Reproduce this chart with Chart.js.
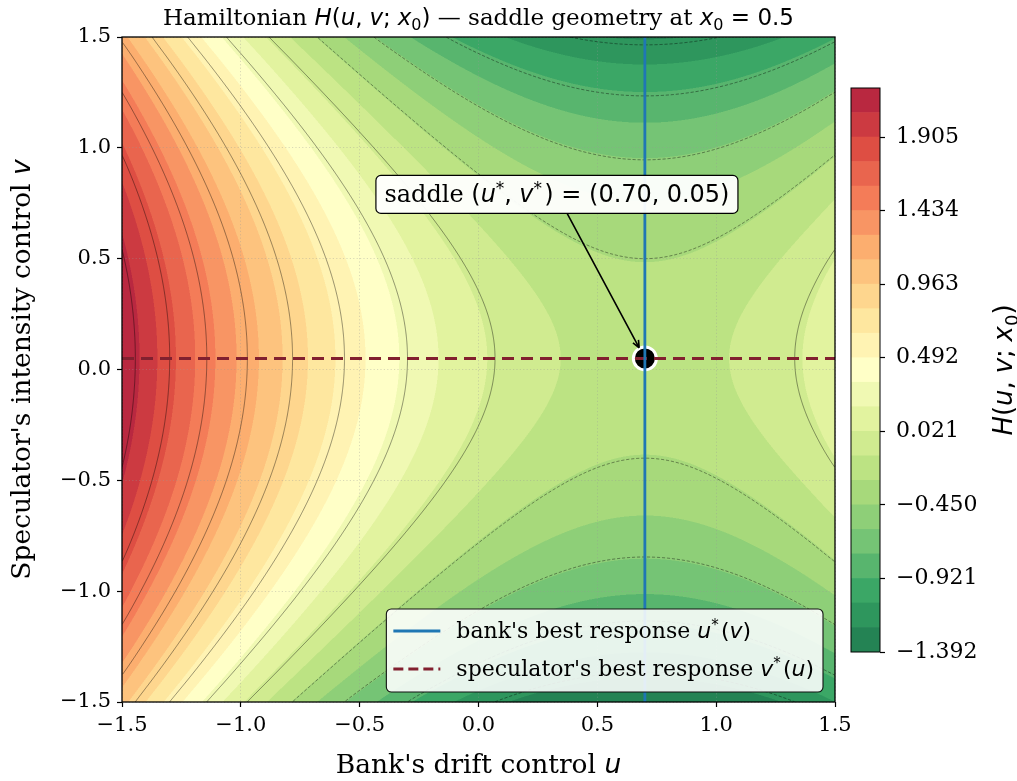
<!DOCTYPE html>
<html>
<head>
<meta charset="utf-8">
<title>Hamiltonian saddle geometry</title>
<script src="https://cdn.jsdelivr.net/npm/chart.js@4.4.1/dist/chart.umd.min.js"></script>
<style>
  html, body { margin: 0; padding: 0; background: #fff; }
  #wrap { position: relative; width: 1017px; height: 781px; }
  #mainChart { position: absolute; left: 0; top: 0; }
  #cbarChart { position: absolute; left: 845px; top: 0; }
</style>
</head>
<body>
<div id="wrap">
  <canvas id="mainChart" width="1017" height="781"></canvas>
  <canvas id="cbarChart" width="172" height="781"></canvas>
</div>
<script>
// ---- values ----
const uStar = 0.70;
const vStar = 0.05;

// H along the horizontal through the saddle, H(u, v*)
const uSamples = [-1.5, -1.4, -1.3, -1.2, -1.1, -1.0, -0.9, -0.8, -0.7, -0.6, -0.5,
  -0.4, -0.3, -0.2, -0.1, 0.0, 0.1, 0.2, 0.3, 0.4, 0.5, 0.6, 0.7, 0.8, 0.9, 1.0,
  1.1, 1.2, 1.3, 1.4, 1.5];
const hRow = [2.22, 2.005, 1.80, 1.605, 1.42, 1.245, 1.08, 0.925, 0.78, 0.645, 0.52,
  0.405, 0.30, 0.205, 0.12, 0.045, -0.02, -0.075, -0.12, -0.155, -0.18, -0.195, -0.20,
  -0.195, -0.18, -0.155, -0.12, -0.075, -0.02, 0.045, 0.12];

// H along the vertical through the saddle, H(u*, v)
const vSamples = [-1.5, -1.4, -1.3, -1.2, -1.1, -1.0, -0.9, -0.8, -0.7, -0.6, -0.5,
  -0.4, -0.3, -0.2, -0.1, 0.0, 0.1, 0.2, 0.3, 0.4, 0.5, 0.6, 0.7, 0.8, 0.9, 1.0,
  1.1, 1.2, 1.3, 1.4, 1.5];
const hCol = [-1.40, -1.25, -1.11, -0.98, -0.86, -0.75, -0.65, -0.56, -0.48, -0.41,
  -0.35, -0.30, -0.26, -0.23, -0.21, -0.20, -0.20, -0.21, -0.23, -0.26, -0.30, -0.35,
  -0.41, -0.48, -0.56, -0.65, -0.75, -0.86, -0.98, -1.11, -1.25];

const fillLevels = [-1.392, -1.235, -1.078, -0.921, -0.764, -0.607, -0.450, -0.293,
  -0.136, 0.021, 0.178, 0.335, 0.492, 0.649, 0.806, 0.963, 1.120, 1.277, 1.434,
  1.591, 1.748, 1.905, 2.062, 2.219];
const cbarTicks = [-1.392, -0.921, -0.450, 0.021, 0.492, 0.963, 1.434, 1.905];
const lineLevels = [-1.2, -0.9, -0.6, -0.3, 0.0, 0.3, 0.6, 0.9, 1.2, 1.5, 1.8, 2.1];
const uRange = [-1.5, 1.5];
const vRange = [-1.5, 1.5];

// text
const SERIF = '"DejaVu Serif", "Liberation Serif", serif';
const SANS = '"DejaVu Sans", "Liberation Sans", sans-serif';
const TICK_SIZE = 21;
const CBAR_TICK_SIZE = 22;
const LABEL_SIZE = 26.5;
const TITLE_SIZE = 23;
const LEGEND_SIZE = 22;
const NOTE_SIZE = 24;

const G = 0.3; // thin space after math punctuation, in em
const titleSegs = [['Hamiltonian ', 'r'], ['H', 'm'], ['(', 'n'], ['u', 'm'], [',', 'n'], [G, 'gap'],
  ['v', 'm'], [';', 'n'], [G, 'gap'], ['x', 'm'], ['0', 'sub'], [')', 'n'],
  [' \u2014 saddle geometry at ', 'r'], ['x', 'm'], ['0', 'sub'], [' = 0.5', 'n']];
const xLabelSegs = [["Bank's drift control ", 'r'], ['u', 'm']];
const yLabelSegs = [["Speculator's intensity control ", 'r'], ['v', 'm']];
const bankSegs = [["bank's best response ", 'r'], ['u', 'm'], ['*', 'sup'], [0.1, 'gap'], ['(', 'n'], ['v', 'm'], [')', 'n']];
const specSegs = [["speculator's best response ", 'r'], ['v', 'm'], ['*', 'sup'], [0.1, 'gap'], ['(', 'n'], ['u', 'm'], [')', 'n']];
const noteSegs = [['saddle ', 'r'], ['(', 'n'], ['u', 'm'], ['*', 'sup'], [',', 'n'], [G, 'gap'], ['v', 'm'],
  ['*', 'sup'], [0.1, 'gap'], [') = (0.70,', 'n'], [G, 'gap'], ['0.05)', 'n']];
const cbarLabelSegs = [['H', 'm'], ['(', 'n'], ['u', 'm'], [',', 'n'], [G, 'gap'], ['v', 'm'], [';', 'n'],
  [G, 'gap'], ['x', 'm'], ['0', 'sub'], [')', 'n']];
const notePos = [0.33, 0.79];

const BLUE = '#1f77b4';
const MAROON = '#82202f';
const RDYLGN = ['#a50026', '#d73027', '#f46d43', '#fdae61', '#fee08b', '#ffffbf',
  '#d9ef8b', '#a6d96a', '#66bd63', '#1a9850', '#006837'];
const FILL_ALPHA = 0.88;

// ---- helpers ----
function hexRgb(h) {
  return [parseInt(h.slice(1, 3), 16), parseInt(h.slice(3, 5), 16), parseInt(h.slice(5, 7), 16)];
}

// reversed RdYlGn: high values red, low values green
function cmapR(t) {
  const p = (1 - t) * (RDYLGN.length - 1);
  const i = Math.min(Math.floor(p), RDYLGN.length - 2);
  const k = p - i;
  const a = hexRgb(RDYLGN[i]), b = hexRgb(RDYLGN[i + 1]);
  return a.map((c, j) => c + (b[j] - c) * k);
}

const bandRgb = [];
for (let i = 0; i < fillLevels.length - 1; i++) {
  const lo = fillLevels[0], hi = fillLevels[fillLevels.length - 1];
  const mid = (fillLevels[i] + fillLevels[i + 1]) / 2;
  const c = cmapR((mid - lo) / (hi - lo));
  bandRgb.push(c.map(x => Math.round(x * FILL_ALPHA + 255 * (1 - FILL_ALPHA))));
}
const bandCss = bandRgb.map(c => `rgb(${c[0]},${c[1]},${c[2]})`);

// smooth curve through evenly spaced samples
function sampler(xs, vals) {
  const x0 = xs[0], step = xs[1] - xs[0], n = vals.length;
  return function (t) {
    const f = (t - x0) / step;
    let i = Math.floor(f);
    if (i < 0) i = 0;
    if (i > n - 2) i = n - 2;
    const k = f - i;
    const p1 = vals[i], p2 = vals[i + 1];
    const p0 = i > 0 ? vals[i - 1] : 2 * p1 - p2;
    const p3 = i < n - 2 ? vals[i + 2] : 2 * p2 - p1;
    return p1 + 0.5 * k * (p2 - p0 + k * (2 * p0 - 5 * p1 + 4 * p2 - p3 + k * (3 * (p1 - p2) + p3 - p0)));
  };
}
const rowF = sampler(uSamples, hRow);
const colF = sampler(vSamples, hCol);
const saddleH = rowF(uStar);

function solveBranch(f, target, a, b) {
  let fa = f(a) - target;
  const fb = f(b) - target;
  if (fa === 0) return a;
  if (fa * fb > 0) return null;
  for (let it = 0; it < 40; it++) {
    const m = (a + b) / 2, fm = f(m) - target;
    if (fa * fm <= 0) { b = m; } else { a = m; fa = fm; }
  }
  return (a + b) / 2;
}

// H(u, v) = H(u, v*) + H(u*, v) - H(u*, v*) ; follow one level set as polylines
function traceLevel(L) {
  const lines = [];
  const N = 600;
  const byV = L > saddleH;
  const branches = byV ? [[uRange[0], uStar], [uStar, uRange[1]]] : [[vRange[0], vStar], [vStar, vRange[1]]];
  const walk = byV ? vRange : uRange;
  for (const [a, b] of branches) {
    let cur = [];
    for (let k = 0; k <= N; k++) {
      const t = walk[0] + (walk[1] - walk[0]) * k / N;
      const s = byV ? solveBranch(rowF, L - colF(t) + saddleH, a, b)
                    : solveBranch(colF, L - rowF(t) + saddleH, a, b);
      if (s === null) { if (cur.length > 1) lines.push(cur); cur = []; }
      else cur.push(byV ? [s, t] : [t, s]);
    }
    if (cur.length > 1) lines.push(cur);
  }
  return lines;
}

function segFont(kind, size) {
  switch (kind) {
    case 'r': return `${size}px ${SERIF}`;
    case 'm': return `italic ${size}px ${SANS}`;
    case 'n': return `${size}px ${SANS}`;
    default: return `${Math.round(size * 0.7)}px ${SANS}`;
  }
}
function segWidth(ctx, t, k, size) {
  if (k === 'gap') return t * size;
  ctx.font = segFont(k, size);
  return ctx.measureText(t).width;
}
function richWidth(ctx, segs, size) {
  let w = 0;
  for (const [t, k] of segs) w += segWidth(ctx, t, k, size);
  return w;
}
function drawRich(ctx, segs, x, y, size, align) {
  const w = richWidth(ctx, segs, size);
  let cx = align === 'center' ? x - w / 2 : (align === 'right' ? x - w : x);
  ctx.textAlign = 'left';
  ctx.textBaseline = 'alphabetic';
  ctx.fillStyle = '#000';
  for (const [t, k] of segs) {
    if (k !== 'gap') {
      ctx.font = segFont(k, size);
      let dy = 0;
      if (k === 'sub') dy = 0.22 * size;
      if (k === 'sup') dy = -0.36 * size;
      ctx.fillText(t, cx, y + dy);
    }
    cx += segWidth(ctx, t, k, size);
  }
  return w;
}
function fmtTick(v, digits) {
  const s = Math.abs(v).toFixed(digits);
  return v < -1e-9 ? '\u2212' + s : s;
}
function roundRect(ctx, x, y, w, h, r) {
  ctx.beginPath();
  ctx.moveTo(x + r, y);
  ctx.arcTo(x + w, y, x + w, y + h, r);
  ctx.arcTo(x + w, y + h, x, y + h, r);
  ctx.arcTo(x, y + h, x, y, r);
  ctx.arcTo(x, y, x + w, y, r);
  ctx.closePath();
}

// ---- main chart ----
let fieldCanvas = null;
const fieldPlugin = {
  id: 'field',
  beforeDraw(chart) {
    const {ctx, chartArea: a, scales: {x, y}} = chart;
    const w = a.right - a.left, h = a.bottom - a.top;
    if (!fieldCanvas) {
      const W2 = Math.round(w * 2), H2 = Math.round(h * 2);
      fieldCanvas = document.createElement('canvas');
      fieldCanvas.width = W2;
      fieldCanvas.height = H2;
      const fctx = fieldCanvas.getContext('2d');
      const img = fctx.createImageData(W2, H2);
      const rowVals = new Float64Array(W2), colVals = new Float64Array(H2);
      for (let i = 0; i < W2; i++) rowVals[i] = rowF(x.getValueForPixel(a.left + (i + 0.5) / 2));
      for (let j = 0; j < H2; j++) colVals[j] = colF(y.getValueForPixel(a.top + (j + 0.5) / 2));
      const nb = fillLevels.length - 1;
      for (let j = 0; j < H2; j++) {
        for (let i = 0; i < W2; i++) {
          const val = rowVals[i] + colVals[j] - saddleH;
          let b = 0;
          while (b < nb - 1 && val >= fillLevels[b + 1]) b++;
          const c = bandRgb[b];
          const o = (j * W2 + i) * 4;
          img.data[o] = c[0]; img.data[o + 1] = c[1]; img.data[o + 2] = c[2]; img.data[o + 3] = 255;
        }
      }
      fctx.putImageData(img, 0, 0);
    }
    ctx.save();
    ctx.imageSmoothingEnabled = true;
    ctx.imageSmoothingQuality = 'high';
    ctx.drawImage(fieldCanvas, a.left, a.top, w, h);
    ctx.restore();
  },
  beforeDatasetsDraw(chart) {
    const {ctx, chartArea: a, scales: {x, y}} = chart;
    ctx.save();
    ctx.beginPath();
    ctx.rect(a.left, a.top, a.right - a.left, a.bottom - a.top);
    ctx.clip();
    ctx.strokeStyle = 'rgba(0,0,0,0.5)';
    ctx.lineWidth = 0.8;
    for (const L of lineLevels) {
      ctx.setLineDash(L < 0 ? [3.2, 1.8] : []);
      for (const line of traceLevel(L)) {
        ctx.beginPath();
        line.forEach(([u, v], k) => {
          const px = x.getPixelForValue(u), py = y.getPixelForValue(v);
          if (k === 0) ctx.moveTo(px, py); else ctx.lineTo(px, py);
        });
        ctx.stroke();
      }
    }
    ctx.restore();
  },
  afterDraw(chart) {
    const {ctx, chartArea: a, scales: {x, y}} = chart;
    ctx.save();
    // axes frame
    ctx.strokeStyle = '#000';
    ctx.lineWidth = 1.3;
    ctx.strokeRect(a.left, a.top, a.right - a.left, a.bottom - a.top);

    // annotation arrow + box
    const nw = richWidth(ctx, noteSegs, NOTE_SIZE);
    const bw = nw + 17, bh = 38;
    const tx = x.getPixelForValue(notePos[0]), ty = y.getPixelForValue(notePos[1]);
    const px = x.getPixelForValue(uStar), py = y.getPixelForValue(vStar);
    const dx = px - tx, dy = py - ty, len = Math.hypot(dx, dy);
    const t0 = Math.min((bw / 2) / Math.abs(dx), (bh / 2) / Math.abs(dy));
    const sx = tx + dx * t0, sy = ty + dy * t0;
    const ex = px - dx / len * 12, ey = py - dy / len * 12;
    ctx.strokeStyle = '#000';
    ctx.lineWidth = 1.6;
    ctx.beginPath();
    ctx.moveTo(sx, sy);
    ctx.lineTo(ex, ey);
    const ang = Math.atan2(dy, dx);
    for (const s of [-1, 1]) {
      ctx.moveTo(ex, ey);
      ctx.lineTo(ex - 8 * Math.cos(ang + s * 0.4), ey - 8 * Math.sin(ang + s * 0.4));
    }
    ctx.stroke();
    roundRect(ctx, tx - bw / 2, ty - bh / 2, bw, bh, 5);
    ctx.fillStyle = 'rgba(255,255,255,0.95)';
    ctx.fill();
    ctx.lineWidth = 1.2;
    ctx.stroke();
    drawRich(ctx, noteSegs, tx, ty + 8, NOTE_SIZE, 'center');

    // legend
    const tw = Math.max(richWidth(ctx, bankSegs, LEGEND_SIZE), richWidth(ctx, specSegs, LEGEND_SIZE));
    const lw = 70 + tw + 9, lh = 83;
    const lx = a.right - 12 - lw, ly = a.bottom - 10 - lh;
    roundRect(ctx, lx, ly, lw, lh, 5);
    ctx.fillStyle = 'rgba(255,255,255,0.88)';
    ctx.fill();
    ctx.strokeStyle = '#111';
    ctx.lineWidth = 1.1;
    ctx.stroke();
    const rows = [[bankSegs, BLUE, []], [specSegs, MAROON, [10, 5]]];
    rows.forEach(([segs, col, dash], r) => {
      const cy = ly + 22 + r * 38;
      ctx.save();
      ctx.strokeStyle = col;
      ctx.lineWidth = 3;
      ctx.setLineDash(dash);
      ctx.beginPath();
      ctx.moveTo(lx + 7, cy);
      ctx.lineTo(lx + 54, cy);
      ctx.stroke();
      ctx.restore();
      drawRich(ctx, segs, lx + 70, cy + 7, LEGEND_SIZE, 'left');
    });

    // title and axis labels
    const cxm = (a.left + a.right) / 2, cym = (a.top + a.bottom) / 2;
    drawRich(ctx, titleSegs, cxm, 25, TITLE_SIZE, 'center');
    drawRich(ctx, xLabelSegs, cxm, 773, LABEL_SIZE, 'center');
    ctx.translate(30, cym);
    ctx.rotate(-Math.PI / 2);
    drawRich(ctx, yLabelSegs, 0, 0, LABEL_SIZE, 'center');
    ctx.restore();
  }
};

function axisOpts(afterFit) {
  return {
    type: 'linear',
    min: -1.5,
    max: 1.5,
    ticks: {
      stepSize: 0.5,
      color: '#000',
      padding: 6,
      font: {family: SERIF, size: TICK_SIZE},
      callback: v => fmtTick(v, 1)
    },
    grid: {
      color: 'rgba(150,150,150,0.45)',
      lineWidth: 0.8,
      tickColor: '#000',
      tickLength: 5,
      tickWidth: 1.2,
      tickBorderDash: []
    },
    border: {display: false, dash: [1.2, 2.2]},
    afterFit
  };
}

new Chart(document.getElementById('mainChart'), {
  type: 'scatter',
  data: {
    datasets: [
      {
        label: "bank's best response",
        data: vRange.map(v => ({x: uStar, y: v})),
        showLine: true,
        borderColor: BLUE,
        borderWidth: 2.8,
        pointRadius: 0
      },
      {
        label: "speculator's best response",
        data: uRange.map(u => ({x: u, y: vStar})),
        showLine: true,
        borderColor: MAROON,
        borderWidth: 3,
        borderDash: [12, 7],
        pointRadius: 0
      },
      {
        label: 'saddle',
        data: [{x: uStar, y: vStar}],
        pointRadius: 11.5,
        pointBackgroundColor: '#000',
        pointBorderColor: '#fff',
        pointBorderWidth: 3
      }
    ]
  },
  options: {
    responsive: false,
    animation: false,
    layout: {padding: {left: 0, right: 182, top: 37, bottom: 0}},
    plugins: {legend: {display: false}, tooltip: {enabled: false}},
    scales: {
      x: axisOpts(s => { s.height = 79; }),
      y: axisOpts(s => { s.width = 122; })
    }
  },
  plugins: [fieldPlugin]
});

// ---- colorbar ----
const cbarPlugin = {
  id: 'cbarFrame',
  afterDraw(chart) {
    const {ctx, chartArea: a} = chart;
    ctx.save();
    ctx.strokeStyle = '#000';
    ctx.lineWidth = 1;
    ctx.strokeRect(a.left, a.top, a.right - a.left, a.bottom - a.top);
    ctx.translate(167, (a.top + a.bottom) / 2);
    ctx.rotate(-Math.PI / 2);
    drawRich(ctx, cbarLabelSegs, 0, 0, 26, 'center');
    ctx.restore();
  }
};

new Chart(document.getElementById('cbarChart'), {
  type: 'bar',
  data: {
    labels: ['H'],
    datasets: bandCss.map((c, i) => ({
      data: [[fillLevels[i], fillLevels[i + 1]]],
      backgroundColor: c,
      borderWidth: 0,
      grouped: false,
      barPercentage: 1,
      categoryPercentage: 1
    }))
  },
  options: {
    responsive: false,
    animation: false,
    layout: {padding: {left: 6, top: 88, bottom: 129, right: 0}},
    plugins: {legend: {display: false}, tooltip: {enabled: false}},
    scales: {
      x: {display: false},
      y: {
        position: 'right',
        min: fillLevels[0],
        max: fillLevels[fillLevels.length - 1],
        afterBuildTicks: s => { s.ticks = cbarTicks.map(v => ({value: v})); },
        ticks: {
          color: '#000',
          padding: 11,
          font: {family: SERIF, size: CBAR_TICK_SIZE},
          callback: v => fmtTick(v, 3)
        },
        grid: {drawOnChartArea: false, tickColor: '#000', tickLength: 5, tickWidth: 1.2},
        border: {display: false},
        afterFit: s => { s.width = 137; }
      }
    }
  },
  plugins: [cbarPlugin]
});
</script>
</body>
</html>
